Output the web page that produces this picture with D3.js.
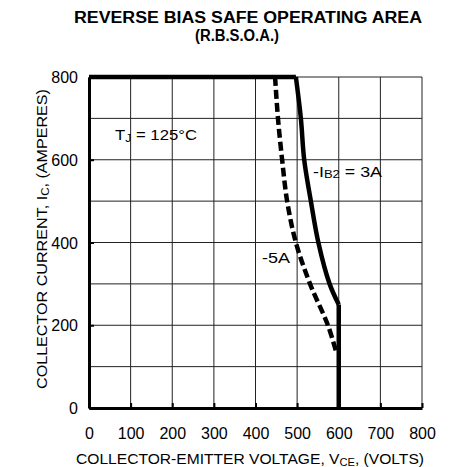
<!DOCTYPE html>
<html lang="en">
<head>
<meta charset="UTF-8">
<title>R.B.S.O.A.</title>
<script src="https://cdn.jsdelivr.net/npm/d3@7/dist/d3.min.js"></script>
<style>
  body { margin: 0; background: #fff; }
  text { font-family: "Liberation Sans", Arial, sans-serif; fill: #000; }
</style>
</head>
<body>
<svg width="456" height="467"></svg>
<script>
// values (volts, amperes)
var xTicks = [0, 100, 200, 300, 400, 500, 600, 700, 800];
var yTicks = [0, 200, 400, 600, 800];
// -IB2 = 3A : flat top, bent knee, vertical drop at 600 V
var ib3V = [0, 497, 509, 517, 533, 551, 578, 600, 600];
var ib3I = [800, 800, 700, 600, 500, 400, 300, 250, 0];
// -5A
var ib5V = [447, 454, 464, 476, 497, 531, 574, 594];
var ib5I = [800, 700, 600, 500, 400, 300, 200, 135];

var margin = { top: 77, left: 89, width: 333, height: 331 };
var svg = d3.select("svg");

var x = d3.scaleLinear().domain([0, 800]).range([margin.left, margin.left + margin.width]);
var y = d3.scaleLinear().domain([0, 800]).range([margin.top + margin.height, margin.top]);

// grid every 100
var grid = svg.append("g").attr("stroke", "#222").attr("stroke-width", 1);
d3.range(0, 801, 100).forEach(function (v) {
    grid.append("line").attr("x1", x(v)).attr("x2", x(v)).attr("y1", y(0)).attr("y2", y(800));
    grid.append("line").attr("x1", x(0)).attr("x2", x(800)).attr("y1", y(v)).attr("y2", y(v));
});

// axes
var xAxis = d3.axisBottom(x).tickValues(xTicks).tickSizeInner(-5).tickSizeOuter(0).tickPadding(20);
var yAxis = d3.axisLeft(y).tickValues(yTicks).tickSizeInner(-5).tickSizeOuter(0).tickPadding(11);

var gx = svg.append("g").attr("transform", "translate(0," + y(0) + ")").call(xAxis);
var gy = svg.append("g").attr("transform", "translate(" + x(0) + ",0)").call(yAxis);
[gx, gy].forEach(function (g) {
    g.select(".domain").attr("stroke", "#000").attr("stroke-width", 3);
    g.selectAll(".tick line").attr("stroke", "#000").attr("stroke-width", 2);
    g.selectAll(".tick text").style("font-size", "16px").attr("font-family", "Liberation Sans, Arial, sans-serif");
});
gy.selectAll(".tick text").attr("dy", "0.35em");

// curves: straight top and vertical drop, smooth in between
var pts3 = d3.zip(ib3V, ib3I);
var pts5 = d3.zip(ib5V, ib5I);
var straight = d3.line().x(function (d) { return x(d[0]); }).y(function (d) { return y(d[1]); });
var smooth = d3.line().x(function (d) { return x(d[0]); }).y(function (d) { return y(d[1]); })
    .curve(d3.curveCatmullRom.alpha(0.5));

var solid = svg.append("g").attr("fill", "none").attr("stroke", "#000").attr("stroke-width", 4.5)
    .attr("stroke-linejoin", "round");
solid.append("path").attr("d", straight(pts3.slice(0, 2)));
solid.append("path").attr("d", smooth(pts3.slice(1, 8)));
solid.append("path").attr("d", straight(pts3.slice(7)));

svg.append("path")
    .attr("d", smooth(pts5))
    .attr("fill", "none").attr("stroke", "#000").attr("stroke-width", 4.5)
    .attr("stroke-dasharray", "9,4");

// titles
svg.append("text").attr("x", 248).attr("y", 23).attr("text-anchor", "middle")
    .attr("textLength", 348).attr("lengthAdjust", "spacingAndGlyphs")
    .style("font-size", "16px").style("font-weight", "bold").text("REVERSE BIAS SAFE OPERATING AREA");
svg.append("text").attr("x", 237).attr("y", 41).attr("text-anchor", "middle")
    .attr("textLength", 84).attr("lengthAdjust", "spacingAndGlyphs")
    .style("font-size", "16px").style("font-weight", "bold").text("(R.B.S.O.A.)");

// axis labels
var xl = svg.append("text").attr("x", 250).attr("y", 464).attr("text-anchor", "middle")
    .attr("textLength", 348).attr("lengthAdjust", "spacingAndGlyphs").style("font-size", "14px");
xl.append("tspan").text("COLLECTOR-EMITTER VOLTAGE, V");
xl.append("tspan").style("font-size", "10px").attr("dy", 2).text("CE");
xl.append("tspan").attr("dy", -2).text(", (VOLTS)");

var yl = svg.append("text").attr("transform", "translate(47,239) rotate(-90)").attr("text-anchor", "middle")
    .attr("textLength", 300).attr("lengthAdjust", "spacingAndGlyphs").style("font-size", "14px");
yl.append("tspan").text("COLLECTOR CURRENT, I");
yl.append("tspan").style("font-size", "10px").attr("dy", 2).text("C");
yl.append("tspan").attr("dy", -2).text(", (AMPERES)");

// annotations
var tj = svg.append("text").attr("x", 115).attr("y", 140).style("font-size", "15px")
    .attr("textLength", 82).attr("lengthAdjust", "spacingAndGlyphs");
tj.append("tspan").text("T");
tj.append("tspan").style("font-size", "11px").attr("dy", 2).text("J");
tj.append("tspan").attr("dy", -2).text(" = 125\u00B0C");

var ib = svg.append("text").attr("x", 313).attr("y", 177).style("font-size", "15px")
    .attr("textLength", 69).attr("lengthAdjust", "spacingAndGlyphs");
ib.append("tspan").text("-I");
ib.append("tspan").style("font-size", "11px").attr("dy", 1).text("B2");
ib.append("tspan").attr("dy", -1).text(" = 3A");

svg.append("text").attr("x", 262).attr("y", 263).style("font-size", "15px")
    .attr("textLength", 28).attr("lengthAdjust", "spacingAndGlyphs").text("-5A");
</script>
</body>
</html>
